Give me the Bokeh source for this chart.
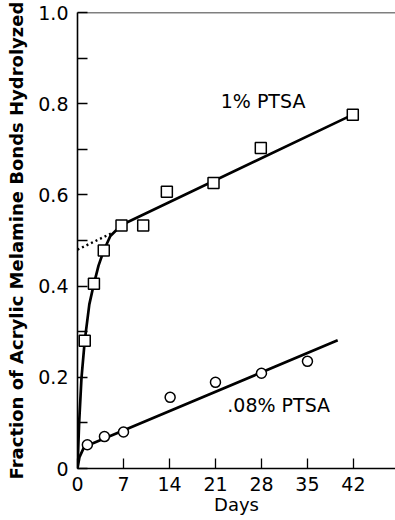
from bokeh.plotting import figure
from bokeh.models import FixedTicker, Span, Range1d
from bokeh.core.properties import value
from bokeh.embed import file_html
from bokeh.resources import INLINE

# Hydrolysis of acrylic melamine bonds with two PTSA catalyst levels
days_1pct = [1.1, 2.5, 4.0, 6.7, 10.0, 13.6, 20.7, 27.9, 41.9]
frac_1pct = [0.28, 0.405, 0.478, 0.533, 0.533, 0.607, 0.626, 0.703, 0.776]

days_008pct = [1.5, 4.1, 7.0, 14.1, 21.0, 28.0, 35.0]
frac_008pct = [0.052, 0.070, 0.080, 0.156, 0.189, 0.209, 0.235]

# Hand-drawn trend curves through each series
curve_1pct_days = [0, 0.25, 0.6, 1.1, 1.8, 2.5, 3.2, 4.0, 5.0, 6.7, 41.9]
curve_1pct_frac = [0, 0.10, 0.197, 0.28, 0.36, 0.405, 0.445, 0.478, 0.51, 0.534, 0.776]
extrap_1pct_days = [0, 5.5]
extrap_1pct_frac = [0.48, 0.518]

curve_008pct_days = [0, 0.3, 1.0, 39.6]
curve_008pct_frac = [0, 0.025, 0.047, 0.281]

x_ticks = [0, 7, 14, 21, 28, 35, 42]
y_major = [0, 0.2, 0.4, 0.6, 0.8, 1.0]
y_minor = [0.1, 0.3, 0.5, 0.7, 0.9]
y_labels = {0: "0", 0.2: "0.2", 0.4: "0.4", 0.6: "0.6", 0.8: "0.8", 1.0: "1.0"}

FONT = "DejaVu Sans"

p = figure(width=395, height=520, output_backend="svg", toolbar_location=None,
           x_range=Range1d(0, 48.4), y_range=Range1d(0, 1.0),
           min_border_left=77, min_border_top=12, min_border_bottom=52,
           min_border_right=0)
p.grid.visible = False
p.outline_line_color = None
p.background_fill_color = "white"
p.border_fill_color = "white"

# Axes
for ax in (p.xaxis[0], p.yaxis[0]):
    ax.axis_line_width = 1.6
    ax.axis_line_color = "black"
    ax.major_tick_in = 10
    ax.major_tick_out = 0
    ax.minor_tick_in = 10
    ax.minor_tick_out = 0
    ax.major_tick_line_width = 1.3
    ax.minor_tick_line_width = 1.3
    ax.major_label_text_font = FONT
    ax.major_label_text_font_size = "19px"
    ax.major_label_text_color = "black"
    ax.axis_label_text_font = FONT
    ax.axis_label_text_font_style = "bold"
    ax.axis_label_text_color = "black"

p.xaxis.ticker = FixedTicker(ticks=x_ticks)
p.xaxis.major_label_standoff = 8
p.xaxis.axis_label = "Days"
p.xaxis.axis_label_text_font_style = "normal"
p.xaxis.axis_label_text_font_size = "18px"
p.xaxis.axis_label_standoff = 0

p.yaxis.ticker = FixedTicker(ticks=y_major, minor_ticks=y_minor)
p.yaxis.major_label_overrides = y_labels
p.yaxis.major_label_standoff = 9
p.yaxis.axis_label = "Fraction of Acrylic Melamine Bonds Hydrolyzed"
p.yaxis.axis_label_text_font_size = "18px"
p.yaxis.axis_label_standoff = 8

# Top border of the frame
p.add_layout(Span(location=1.0, dimension="width", line_color="black", line_width=1.6))

# Trend lines
p.line(curve_1pct_days, curve_1pct_frac, line_color="black", line_width=2.7)
p.line(extrap_1pct_days, extrap_1pct_frac, line_color="black", line_width=2.4,
       line_dash="2 3")
p.line(curve_008pct_days, curve_008pct_frac, line_color="black", line_width=2.7)

# Measured points
p.scatter(days_1pct, frac_1pct, marker="square", size=11, fill_color="white",
          line_color="black", line_width=1.5)
p.scatter(days_008pct, frac_008pct, marker="circle", size=10, fill_color="white",
          line_color="black", line_width=1.5)

# Series labels
p.text(x=[21.8], y=[0.807], text=["1% PTSA"], text_font=value(FONT),
       text_font_size="19px", text_baseline="middle", text_align="left",
       text_color="black")
p.text(x=[22.8], y=[0.140], text=[".08% PTSA"], text_font=value(FONT),
       text_font_size="19px", text_baseline="middle", text_align="left",
       text_color="black")

open("out.html", "w").write(file_html(p, INLINE))
